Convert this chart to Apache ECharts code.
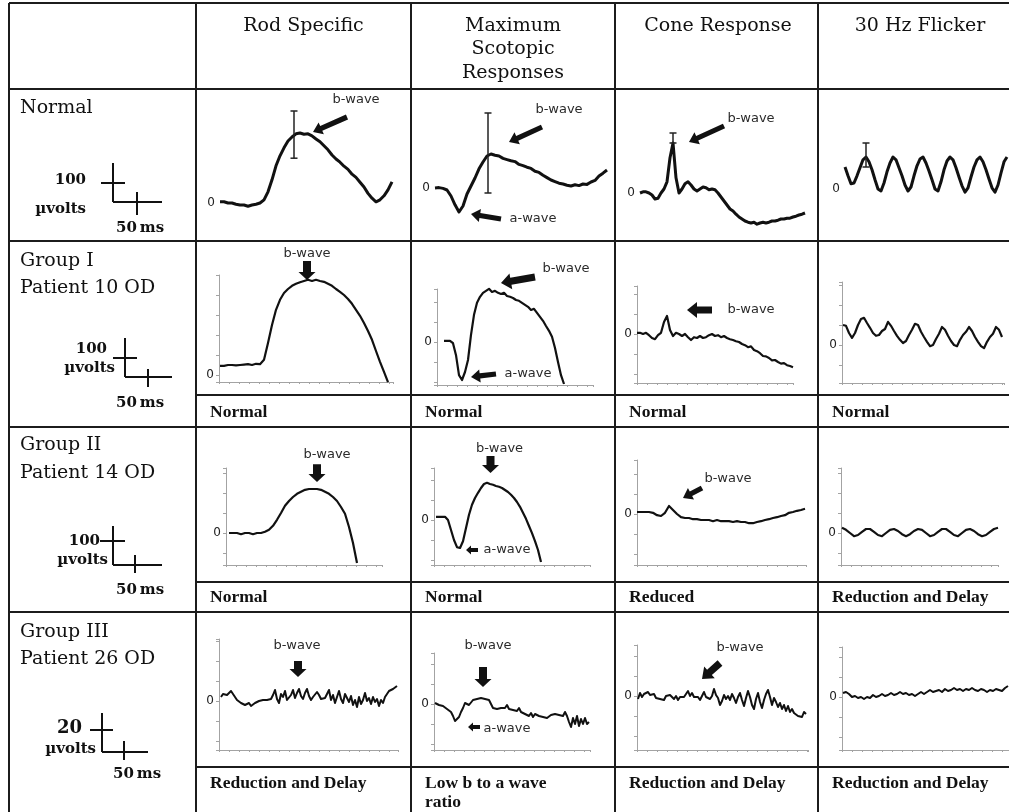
<!DOCTYPE html>
<html><head><meta charset="utf-8">
<script src="https://cdn.jsdelivr.net/npm/echarts@6/dist/echarts.min.js"></script>
<style>html,body{margin:0;padding:0;background:#fff}#c{width:1009px;height:812px}</style>
</head><body><div id="c"></div>
<script>
// ---------------- DATA ----------------
const columnTitles = ['Rod Specific', 'Maximum\nScotopic\nResponses', 'Cone Response', '30 Hz Flicker'];
const rowTitles = [['Normal'], ['Group I', 'Patient 10 OD'], ['Group II', 'Patient 14 OD'], ['Group III', 'Patient 26 OD']];
const scaleVolts = ['100', '100', '100', '20'];
const scaleUnit = 'µvolts';
const scaleTime = '50\u2009ms';
const findings = [
  ['Normal', 'Normal', 'Normal', 'Normal'],
  ['Normal', 'Normal', 'Reduced', 'Reduction and Delay'],
  ['Reduction and Delay', 'Low b to a wave\nratio', 'Reduction and Delay', 'Reduction and Delay']
];

// waveforms (µV), sampled at regular times (ms)
const rodNormal = [3,3,0,0,-3,-5,-5,-8,-5,-3,0,8,28,58,93,118,138,155,165,173,175,172,173,168,160,153,143,133,120,110,102,92,84,72,64,52,40,24,12,3,8,18,33,53];
const maxNormal = [0,1,-1,-5,-20,-42,-60,-45,-15,5,25,48,65,80,85,82,80,74,71,68,66,59,56,52,49,42,39,32,26,20,16,12,10,7,5,8,6,10,9,15,19,30,37,45];
const coneNormal = [0,3,3,0,-5,-15,-13,0,10,28,88,125,38,0,10,23,28,20,10,5,10,15,13,8,10,8,0,-10,-20,-30,-40,-45,-53,-60,-65,-70,-73,-75,-73,-78,-75,-73,-75,-73,-70,-70,-68,-65,-65,-63,-63,-60,-58,-55,-53,-50];
const flickerNormal = [55,33,13,15,33,53,73,80,68,48,23,0,-5,15,43,65,80,73,53,33,10,-5,5,33,58,75,80,65,45,23,0,-5,18,48,70,80,73,53,30,8,-8,3,30,55,73,80,68,48,25,3,-8,10,40,68,80];

const rodG1 = [23,23,25,25,24,25,26,27,25,28,27,38,80,125,163,188,205,215,223,228,232,235,238,235,238,235,233,228,223,215,208,200,190,178,163,148,130,110,88,60,33,8,-18];
const maxG1 = [3,3,3,-3,-33,-83,-95,-75,-45,18,68,98,113,123,128,133,125,128,123,120,123,115,113,110,105,103,98,93,88,80,83,73,63,53,40,28,13,-15,-50,-83,-105];
const coneG1 = [3,3,0,3,-3,-10,-13,-3,3,30,45,10,-5,3,0,-5,0,-8,-15,-8,-10,-5,-10,-8,-3,0,-5,-3,-8,-5,-10,-13,-15,-18,-20,-25,-28,-33,-31,-40,-43,-48,-55,-56,-60,-66,-65,-70,-74,-73,-78,-80,-83];
const flickerG1 = [50,48,30,18,30,50,65,68,55,43,30,23,25,35,40,58,48,35,23,13,5,10,25,38,53,50,33,20,8,-3,0,15,28,45,38,23,10,0,-3,13,25,33,45,35,20,8,-3,-8,8,20,28,45,38,20];

const rodG2 = [0,0,0,-3,0,0,-3,0,0,3,8,18,33,50,68,80,90,98,103,108,110,110,110,108,103,98,90,80,65,48,15,-25,-75];
const maxG2 = [8,8,8,8,0,-25,-50,-68,-70,-53,-20,13,38,55,68,80,90,93,90,88,85,83,80,75,70,63,55,45,33,18,3,-15,-33,-53,-75,-105];
const coneG2 = [5,5,5,5,3,-3,-5,3,20,10,0,-8,-10,-10,-13,-13,-15,-15,-15,-18,-15,-18,-18,-18,-20,-18,-20,-20,-23,-23,-20,-18,-15,-13,-10,-8,-5,-3,3,5,8,10,13];
const flickerG2 = [13,8,0,-8,-5,3,10,10,3,-5,-8,0,8,10,5,-3,-8,-3,5,10,8,0,-8,-5,3,10,10,3,-5,-8,0,8,10,5,-3,-8,-5,3,10,13];

const rodG3 = [2,3.5,4.5,3,4,5,3.5,2,0.5,1.5,-1,0,-2,-3,-1,-2.5,-1.5,-1,-0.5,0,0,0.5,0,0.5,0.5,1,3,5.5,1,-1,3.5,2,5,0.5,-0.5,3,5.5,1.5,4,6,2.5,1,4,6,2.5,0.5,2,1.5,4.5,3,1,1,1.5,2.5,5.5,0.5,3,-1,2,5,1,-1,3.5,1.5,-0.5,2.5,-2,0.5,-3,2,-1.5,0.5,4,0,1.5,-1.5,2,-0.5,1,-2.5,0.5,-1,2,3.5,5,4,6,6.5,7.5];
const maxG3 = [0.5,1,-0.5,-1.5,-1,-2,-2.5,-2.5,-4,-6,-8.5,-9.5,-6.5,-4,-2,0.5,1,-0.5,0.5,2,1,2.5,1.5,3,3.5,2.5,3.5,2,0,-2,-1,-2.5,-1.5,-2,-1,-2,-0.5,-2.5,-1.5,-3,-2.5,-3.5,-2,-4,-3,-5,-4,-6,-4.5,-6.5,-5,-4.5,-6,-5,-6.5,-5.5,-7,-6,-5.5,-6.5,-5,-6,-5.5,-4.5,-6,-4,-6,-9,-11.5,-7,-10,-6,-11,-7.5,-10,-7,-10,-9];
const coneG3 = [-1.5,1.5,-0.5,1,0,2,0.5,-0.5,1,-1,0,-1.5,-0.5,-2,0,-1,0.5,-0.5,-1.5,0,-2,-0.5,-1.5,-0.5,1,2.5,0,1.5,-0.5,-1.5,-0.5,-2,0,2,-0.5,0.5,-1.5,0,3.5,0.5,-1,-4.5,-2.5,0.5,-1.5,0,-2,1,-1,-3.5,-0.5,1.5,-2,-5,-1,2.5,-0.5,-4.5,-6.5,-1.5,1.5,-3,-6,-2,1,3,-0.5,-4.5,-1,-3,-5.5,-3.5,-6.5,-4.5,-7.5,-5,-8,-6.5,-8.5,-7.5,-10,-9,-10.5,-8,-9];
const flickerG3 = [2,2.5,1.5,0,0.5,-0.5,0,-1,0,-0.5,1,0,0.5,1.5,0.5,1,2,1,1.5,2.5,1.5,2,1,1.5,0.5,1.5,2.5,1.5,2.5,3.5,2.5,3,3.5,2.5,4,3,3.5,4.5,3.5,4,3,4,3.5,4.5,3.5,3,4,3.5,2.5,3.5,3,4,3.5,3,4.5,5.5];

// sampling [start ms, step ms] per trace
const sampling = [[0,4],[0,4],[0,3],[0,3],[1,4],[7,3],[0,3],[1,3],[3,4],[2,3],[0,4],[1,4],[2,2],[1,2],[1,2],[1,3]];
const traces = [rodNormal, maxNormal, coneNormal, flickerNormal, rodG1, maxG1, coneG1, flickerG1, rodG2, maxG2, coneG2, flickerG2, rodG3, maxG3, coneG3, flickerG3];

// annotations in data units: bars [t, top, bottom], arrows [t1, v1, t2(tip), v2(tip)], labels [t, v]
const notes = [
  [{kind:'bar', at:[74,230,112,0]}, {kind:'arrow', at:[127,215,93,177.5], size:'med'}, {kind:'text', at:[136,257.5,0,0], text:'b-wave'}],
  [{kind:'bar', at:[53,187.5,-12.5,0]}, {kind:'arrow', at:[107,152.5,74,115], size:'med'}, {kind:'text', at:[124,195,0,0], text:'b-wave'},
   {kind:'arrow', at:[66,-77.5,36,-65], size:'med'}, {kind:'text', at:[98,-77.5,0,0], text:'a-wave'}],
  [{kind:'bar', at:[33,150,125,0]}, {kind:'arrow', at:[84,167.5,49,127.5], size:'med'}, {kind:'text', at:[111,185,0,0], text:'b-wave'}],
  [{kind:'bar', at:[21,115,55,0]}],
  [{kind:'arrow', at:[88,285,88,237.5], size:'vert'}, {kind:'text', at:[88,302.5,0,0], text:'b-wave'}],
  [{kind:'arrow', at:[98,162.5,64,147.5], size:'big'}, {kind:'text', at:[129,182.5,0,0], text:'b-wave'},
   {kind:'arrow', at:[59,-80,34,-87.5], size:'med'}, {kind:'text', at:[91,-80,0,0], text:'a-wave'}],
  [{kind:'arrow', at:[75,60,50,60], size:'big'}, {kind:'text', at:[114,60,0,0], text:'b-wave'}],
  [],
  [{kind:'arrow', at:[91,172,91,127.5], size:'vert'}, {kind:'text', at:[101,195,0,0], text:'b-wave'}],
  [{kind:'arrow', at:[56.5,160,56.5,117.5], size:'vert'}, {kind:'text', at:[65.5,177.5,0,0], text:'b-wave'},
   {kind:'arrow', at:[44,-75,32,-75], size:'small'}, {kind:'text', at:[73,-75,0,0], text:'a-wave'}],
  [{kind:'arrow', at:[65,65,46,40], size:'med'}, {kind:'text', at:[91,87.5,0,0], text:'b-wave'}],
  [],
  [{kind:'arrow', at:[79,20,79,12], size:'vert'}, {kind:'text', at:[78,27.5,0,0], text:'b-wave'}],
  [{kind:'arrow', at:[49,18.5,49,8.5], size:'vert'}, {kind:'text', at:[54,29,0,0], text:'b-wave'},
   {kind:'arrow', at:[46,-11.5,34,-11.5], size:'small'}, {kind:'text', at:[73,-12.5,0,0], text:'a-wave'}],
  [{kind:'arrow', at:[83,16.5,65,8.5], size:'big'}, {kind:'text', at:[103,24,0,0], text:'b-wave'}],
  []
];

// ---------------- LAYOUT / STYLE ----------------
const panelLayout = [
  {left:220, top:100, width:173, height:130, zeroY:203, k:2.5, axes:false, lw:3},
  {left:435, top:100, width:174, height:128, zeroY:188, k:2.5, axes:false, lw:3},
  {left:640, top:100, width:168, height:130, zeroY:193, k:2.5, axes:false, lw:3},
  {left:845, top:100, width:164, height:130, zeroY:189, k:2.5, axes:false, lw:3},
  {left:219, top:275, width:174, height:107, zeroY:375, k:2.5, axes:true, lw:2.2},
  {left:437, top:289, width:156, height:96, zeroY:342, k:2.5, axes:true, lw:2.2},
  {left:637, top:286, width:156, height:97, zeroY:334, k:2.5, axes:true, lw:2.2},
  {left:842, top:282, width:162, height:101, zeroY:345, k:2.5, axes:true, lw:2.2},
  {left:226, top:468, width:156, height:97, zeroY:533, k:2.5, axes:true, lw:2.2},
  {left:434, top:468, width:156, height:97, zeroY:520, k:2.5, axes:true, lw:2.2},
  {left:637, top:460, width:169, height:105, zeroY:514, k:2.5, axes:true, lw:2.2},
  {left:841, top:468, width:157, height:97, zeroY:533, k:2.5, axes:true, lw:2.2},
  {left:219, top:639, width:179, height:111, zeroY:701, k:0.5, axes:true, lw:2},
  {left:434, top:653, width:156, height:97, zeroY:704, k:0.5, axes:true, lw:2},
  {left:637, top:645, width:171, height:105, zeroY:696, k:0.5, axes:true, lw:2},
  {left:842, top:647, width:167, height:103, zeroY:697, k:0.5, axes:true, lw:2}
];
const arrowSizes = {big:[3.6,10,8], med:[2.6,9,6.5], vert:[4,8,8.5], small:[2,5,4.5]};
const INK = '#111';
const AXC = '#a3a3a3';

function annotSeries(i, list) {
  return {
    type:'custom', xAxisIndex:i, yAxisIndex:i, clip:false, silent:true, animation:false, z:6,
    data: list.map(n => n.at),
    renderItem(params, api) {
      const n = list[params.dataIndex];
      if (n.kind === 'text') {
        const p = api.coord([api.value(0), api.value(1)]);
        return {type:'text', x:p[0], y:p[1], style:{text:n.text, font:'13px "DejaVu Sans"', fill:'#2b2b2b',
          textAlign:'center', textVerticalAlign:'middle', align:'center', verticalAlign:'middle'}};
      }
      if (n.kind === 'bar') {
        const a = api.coord([api.value(0), api.value(1)]);
        const b = api.coord([api.value(0), api.value(2)]);
        const c = 3.5, st = {stroke:'#222', lineWidth:1.5};
        return {type:'group', children:[
          {type:'line', shape:{x1:a[0], y1:a[1], x2:b[0], y2:b[1]}, style:st},
          {type:'line', shape:{x1:a[0]-c, y1:a[1], x2:a[0]+c, y2:a[1]}, style:st},
          {type:'line', shape:{x1:b[0]-c, y1:b[1], x2:b[0]+c, y2:b[1]}, style:st}
        ]};
      }
      const a = api.coord([api.value(0), api.value(1)]);
      const b = api.coord([api.value(2), api.value(3)]);
      const s = arrowSizes[n.size];
      const dx = b[0]-a[0], dy = b[1]-a[1], L = Math.hypot(dx, dy) || 1;
      const ux = dx/L, uy = dy/L, nx = -uy, ny = ux;
      const hx = b[0]-ux*s[1], hy = b[1]-uy*s[1];
      const pts = [
        [a[0]+nx*s[0], a[1]+ny*s[0]], [hx+nx*s[0], hy+ny*s[0]], [hx+nx*s[2], hy+ny*s[2]],
        [b[0], b[1]],
        [hx-nx*s[2], hy-ny*s[2]], [hx-nx*s[0], hy-ny*s[0]], [a[0]-nx*s[0], a[1]-ny*s[0]]
      ];
      return {type:'polygon', shape:{points:pts}, style:{fill:INK}};
    }
  };
}

const grids = [], xAxes = [], yAxes = [], series = [];
panelLayout.forEach((p, i) => {
  const bottom = p.top + p.height;
  grids.push({left:p.left, top:p.top, width:p.width, height:p.height, outerBoundsMode:'none', containLabel:false});
  xAxes.push({type:'value', gridIndex:i, min:0, max:p.width, splitNumber:16,
    axisLine:{show:p.axes, onZero:false, lineStyle:{color:AXC, width:1}},
    axisTick:{show:p.axes, length:2, lineStyle:{color:AXC}},
    axisLabel:{show:false}, splitLine:{show:false}});
  yAxes.push({type:'value', gridIndex:i, min:-(bottom - p.zeroY)*p.k, max:(p.zeroY - p.top)*p.k, splitNumber:6,
    axisLine:{show:p.axes, onZero:false, lineStyle:{color:AXC, width:1}},
    axisTick:{show:p.axes, length:3, lineStyle:{color:AXC}},
    axisLabel:{show:true, margin:5, color:'#222', fontSize:12, fontFamily:'DejaVu Sans',
      formatter: v => (Math.abs(v) < 1e-9 ? '0' : '')},
    splitLine:{show:false}});
  const [t0, dt] = sampling[i];
  series.push({type:'line', xAxisIndex:i, yAxisIndex:i, symbol:'none', showSymbol:false, clip:false,
    animation:false, silent:true, z:3, lineStyle:{color:INK, width:p.lw, join:'round'},
    data: traces[i].map((v, j) => [t0 + j*dt, v])});
  if (notes[i].length) series.push(annotSeries(i, notes[i]));
});

// table frame
const colX = [9, 196, 411, 615, 818];
const rowY = [3, 89, 241, 427, 612];
const subRowY = [395, 582, 767];
const colCenter = [303.5, 513, 718, 920];
const headerY = [26, 49.5, 73];
const rowLabelY = [[108], [261, 288], [445, 473], [632, 659]];
const findingY = [412, 597, 783];
const findingLineH = 19;
const scaleGeom = [
  {lab:[86,180], unit:[86,209], ms:[116,228], v:[113,163,202], h:[101,125,183], base:[113,162,202], t:[137,192,215]},
  {lab:[107,349], unit:[115,368], ms:[116,403], v:[125,338,377], h:[113,137,358], base:[125,172,377], t:[148,369,387]},
  {lab:[100,541], unit:[108,560], ms:[116,590], v:[113,526,565], h:[100,125,541], base:[113,162,565], t:[135,555,573]},
  {lab:[82,728], unit:[96,749], ms:[113,774], v:[102,713,752], h:[90,113,730], base:[102,148,752], t:[124,741,760]}
];

const G = [];
const line = (x1,y1,x2,y2,w,c) => G.push({type:'line', silent:true, z:1, shape:{x1,y1,x2,y2}, style:{stroke:c||'#1c1c1c', lineWidth:w||2}});
const text = (t,x,y,font,align) => G.push({type:'text', silent:true, z:2, x, y, style:{text:t, font, fill:INK,
  textAlign:align||'left', align:align||'left', textVerticalAlign:'middle', verticalAlign:'middle'}});

colX.forEach(x => line(x, rowY[0], x, 812));
rowY.forEach(y => line(colX[0], y, 1009, y));
subRowY.forEach(y => line(colX[1], y, 1009, y));

const HFONT = '19px "DejaVu Serif"';
columnTitles.forEach((t, c) => t.split('\n').forEach((s, k) => text(s, colCenter[c], headerY[k], HFONT, 'center')));
rowTitles.forEach((lines, r) => lines.forEach((s, k) => text(s, 20, rowLabelY[r][k], '19px "DejaVu Serif"', 'left')));
findings.forEach((row, r) => row.forEach((t, c) => t.split('\n').forEach((s, k) =>
  text(s, colX[c+1] + 14, findingY[r] + k*findingLineH, 'bold 17.5px "Liberation Serif"', 'left'))));
scaleGeom.forEach((g, r) => {
  text(scaleVolts[r], g.lab[0], g.lab[1], r === 3 ? 'bold 18px "DejaVu Serif"' : 'bold 15px "DejaVu Serif"', 'right');
  text(scaleUnit, g.unit[0], g.unit[1], 'bold 15px "DejaVu Serif"', 'right');
  text(scaleTime, g.ms[0], g.ms[1], 'bold 15px "DejaVu Serif"', 'left');
  line(g.v[0], g.v[1], g.v[0], g.v[2], 2, INK);
  line(g.h[0], g.h[2], g.h[1], g.h[2], 2, INK);
  line(g.base[0], g.base[2], g.base[1], g.base[2], 2, INK);
  line(g.t[0], g.t[1], g.t[0], g.t[2], 2, INK);
});

const chart = echarts.init(document.getElementById('c'), null, {renderer:'canvas'});
chart.setOption({
  backgroundColor:'#fff',
  animation:false,
  grid: grids, xAxis: xAxes, yAxis: yAxes, series,
  graphic: {elements: G}
});
</script></body></html>
